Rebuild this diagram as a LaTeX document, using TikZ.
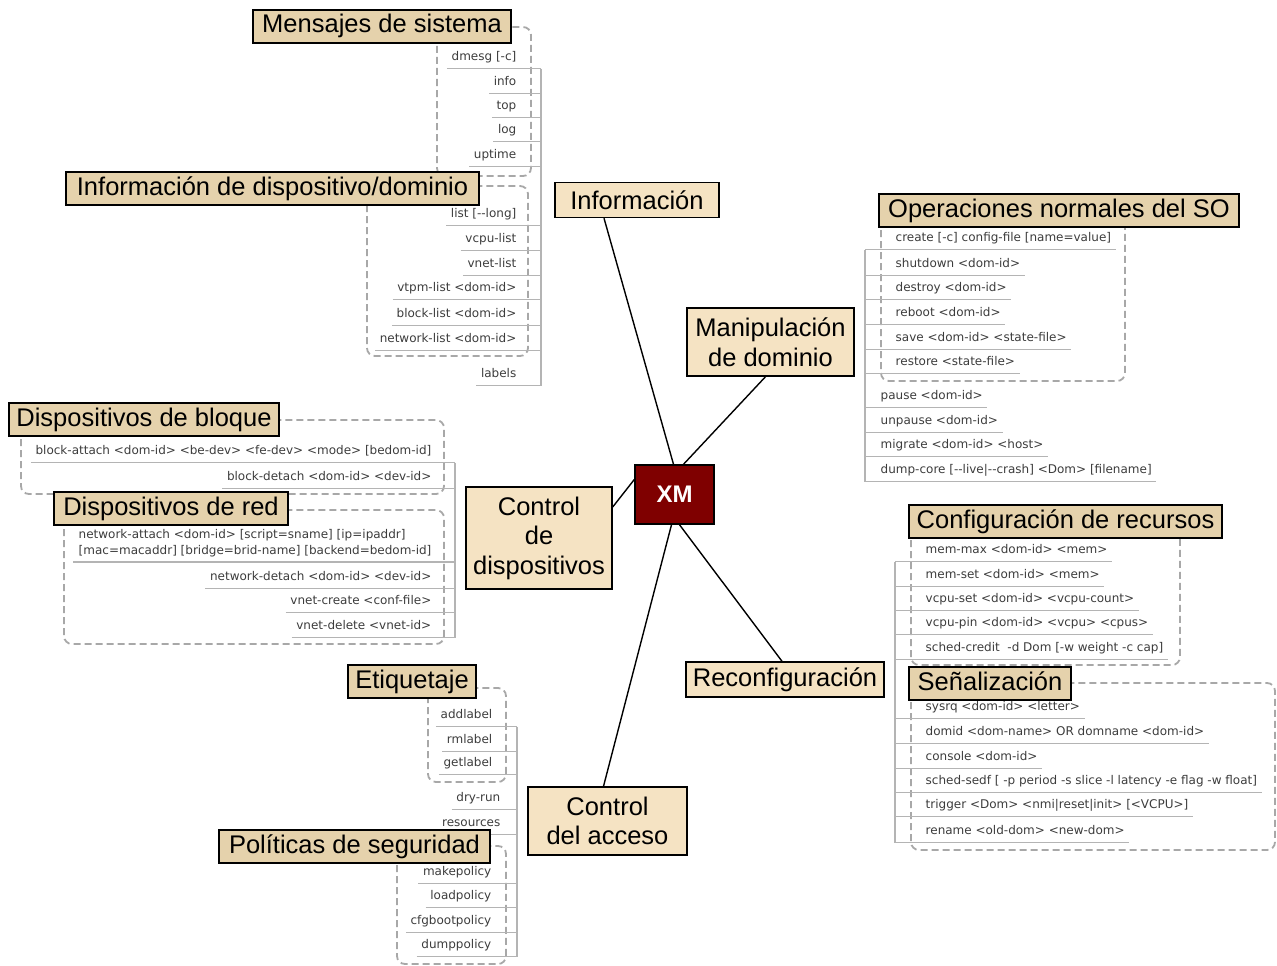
\documentclass[tikz,border=0pt]{standalone}
\usepackage{fontspec}
\setmainfont{Liberation Sans}
\newfontfamily\cmdfont{DejaVu Sans}
\usetikzlibrary{positioning}

\definecolor{xmred}{HTML}{7F0000}
\definecolor{toptan}{HTML}{F5E3C3}
\definecolor{grouptan}{HTML}{E5D2AC}
\definecolor{cmdgray}{HTML}{3C3C3C}
\definecolor{linegray}{HTML}{B4B4B4}
\definecolor{dashgray}{HTML}{A8A8A8}

\tikzset{
  topnode/.style={rectangle, draw, line width=1.4pt, fill=toptan, align=center, inner sep=2pt,
    font=\fontsize{25.5}{29.5}\selectfont},
  groupnode/.style={rectangle, draw, line width=1.8pt, fill=grouptan, inner xsep=2pt, inner ysep=5pt,
    text height=18pt, text depth=5pt, minimum height=33pt, font=\fontsize{25.5}{29.5}\selectfont},
  cmdbase/.style={inner xsep=4pt, inner ysep=5pt, text=cmdgray, font=\cmdfont\fontsize{12}{16}\selectfont},
  cmd/.style={cmdbase, text height=9pt, text depth=3pt},
  cmdR/.style={cmd, anchor=east},
  cmdL/.style={cmd, anchor=west},
  uline/.style={draw=linegray, line width=1.1pt},
  grpbox/.style={draw=dashgray, line width=1.8pt, dash pattern=on 7pt off 4pt, rounded corners=8pt},
}

\begin{document}
\begin{tikzpicture}[x=1pt, y=-1pt, line width=1.4pt]
  \useasboundingbox (0,0) rectangle (1277,966);

  % spines of the command trees
  \coordinate (infospine) at (541,0);
  \coordinate (devspine) at (455,0);
  \coordinate (accspine) at (517,0);
  \coordinate (manspine) at (865,0);
  \coordinate (recspine) at (895,0);

  % dashed group boxes
  \draw[grpbox] (437,27) rectangle (531,176);
  \draw[grpbox] (367,186) rectangle (528,356);
  \draw[grpbox] (21,420) rectangle (444,494);
  \draw[grpbox] (64,510) rectangle (444,644);
  \draw[grpbox] (881,211) rectangle (1125,381);
  \draw[grpbox] (911,521) rectangle (1180,665);
  \draw[grpbox] (911,683) rectangle (1275,850);
  \draw[grpbox] (428,688) rectangle (506,782);
  \draw[grpbox] (397,846) rectangle (506,964);

  % Informacion
  \foreach \t/\y [count=\i] in {{dmesg [-c]}/57, info/82, top/106, log/130, uptime/155}{
    \node[cmdR] (msg\i) at (521,\y) {\t};
    \draw[uline] (msg\i.south west) -- (msg\i.south west -| infospine);
  }
  \foreach \t/\y [count=\i] in {{list [-{}-long]}/214, vcpu-list/239, vnet-list/264,
      {vtpm-list <dom-id>}/288, {block-list <dom-id>}/314, {network-list <dom-id>}/339, labels/374}{
    \node[cmdR] (dev\i) at (521,\y) {\t};
    \draw[uline] (dev\i.south west) -- (dev\i.south west -| infospine);
  }
  \draw[uline] (msg1.south -| infospine) -- (dev7.south -| infospine);

  % Control de dispositivos
  \foreach \t/\y [count=\i] in {{block-attach <dom-id> <be-dev> <fe-dev> <mode> [bedom-id]}/451,
      {block-detach <dom-id> <dev-id>}/477}{
    \node[cmdR] (blk\i) at (436,\y) {\t};
    \draw[uline] (blk\i.south west) -- (blk\i.south west -| devspine);
  }
  \node[cmdbase, anchor=south west, align=left, inner xsep=5pt, inner ysep=4pt] (net1) at (73,562)
    {network-attach <dom-id> [script=sname] [ip=ipaddr]\\{}[mac=macaddr] [bridge=brid-name] [backend=bedom-id]};
  \draw[uline] (net1.south west) -- (net1.south west -| devspine);
  \foreach \t/\y [count=\i from 2] in {{network-detach <dom-id> <dev-id>}/577,
      {vnet-create <conf-file>}/601, {vnet-delete <vnet-id>}/626}{
    \node[cmdR] (net\i) at (436,\y) {\t};
    \draw[uline] (net\i.south west) -- (net\i.south west -| devspine);
  }
  \draw[uline] (blk1.south -| devspine) -- (net4.south -| devspine);

  % Control del acceso
  \foreach \t/\y/\x [count=\i] in {addlabel/715/497, rmlabel/740/497, getlabel/763/497,
      dry-run/798/505, resources/823/505}{
    \node[cmdR] (lbl\i) at (\x,\y) {\t};
    \draw[uline] (lbl\i.south west) -- (lbl\i.south west -| accspine);
  }
  \foreach \t/\y [count=\i] in {makepolicy/872, loadpolicy/896, cfgbootpolicy/921, dumppolicy/945}{
    \node[cmdR] (pol\i) at (496,\y) {\t};
    \draw[uline] (pol\i.south west) -- (pol\i.south west -| accspine);
  }
  \draw[uline] (lbl1.south -| accspine) -- (pol4.south -| accspine);

  % Manipulacion de dominio
  \foreach \t/\y/\x [count=\i] in {{create [-c] config-file [name=value]}/238/891,
      {shutdown <dom-id>}/264/891, {destroy <dom-id>}/288/891, {reboot <dom-id>}/313/891,
      {save <dom-id> <state-file>}/338/891, {restore <state-file>}/362/891,
      {pause <dom-id>}/396/876, {unpause <dom-id>}/421/876, {migrate <dom-id> <host>}/445/876,
      {dump-core [-{}-live|-{}-crash] <Dom> [filename]}/470/876}{
    \node[cmdL] (ops\i) at (\x,\y) {\t};
    \draw[uline] (ops\i.south -| manspine) -- (ops\i.south east);
  }
  \draw[uline] (ops1.south -| manspine) -- (ops10.south -| manspine);

  % Reconfiguracion
  \foreach \t/\y [count=\i] in {{mem-max <dom-id> <mem>}/550, {mem-set <dom-id> <mem>}/575,
      {vcpu-set <dom-id> <vcpu-count>}/599, {vcpu-pin <dom-id> <vcpu> <cpus>}/623,
      {sched-credit \ -d Dom [-w weight -c cap]}/648}{
    \node[cmdL] (cfg\i) at (921,\y) {\t};
    \draw[uline] (cfg\i.south -| recspine) -- (cfg\i.south east);
  }
  \foreach \t/\y [count=\i] in {{sysrq <dom-id> <letter>}/707, {domid <dom-name> OR domname <dom-id>}/732,
      {console <dom-id>}/757, {sched-sedf [ -p period -s slice -l latency -e flag -w float]}/781,
      {trigger <Dom> <nmi|reset|init> [<VCPU>]}/805, {rename <old-dom> <new-dom>}/831}{
    \node[cmdL] (sig\i) at (921,\y) {\t};
    \draw[uline] (sig\i.south -| recspine) -- (sig\i.south east);
  }
  \draw[uline] (cfg1.south -| recspine) -- (sig6.south -| recspine);

  % group labels
  \node[groupnode, minimum width=258pt] (msglbl) at (382,26.5) {Mensajes de sistema};
  \node[groupnode, minimum width=413pt] (devlbl) at (272.5,188.5) {Información de dispositivo/dominio};
  \node[groupnode, minimum width=270pt] (blklbl) at (144,419.5) {Dispositivos de bloque};
  \node[groupnode, minimum width=234pt] (netlbl) at (171,508.5) {Dispositivos de red};
  \node[groupnode, minimum width=360pt] (opslbl) at (1059,210.5) {Operaciones normales del SO};
  \node[groupnode, minimum width=313pt] (cfglbl) at (1065.5,521.5) {Configuración de recursos};
  \node[groupnode, minimum width=162pt] (siglbl) at (990,683.5) {Señalización};
  \node[groupnode, minimum width=128pt] (etqlbl) at (412,681.5) {Etiquetaje};
  \node[groupnode, minimum width=271pt] (pollbl) at (354.5,846.5) {Políticas de seguridad};

  % main nodes
  \node[draw, line width=1.4pt, fill=xmred, text=white, font=\bfseries\fontsize{24}{28}\selectfont,
    minimum width=79pt, minimum height=59pt] (xm) at (674.5,494.5) {XM};
  \node[topnode, minimum width=164pt, minimum height=35pt] (info) at (637,200) {Información};
  \node[topnode, minimum width=167pt, minimum height=68pt] (manip) at (770.5,342) {Manipulación\\de dominio};
  \node[topnode, minimum width=146pt, minimum height=102pt] (ctrl) at (539,538) {Control\\de\\dispositivos};
  \node[topnode, minimum width=198pt, minimum height=35pt] (reconf) at (785,679.5) {Reconfiguración};
  \node[topnode, minimum width=159pt, minimum height=68pt] (acceso) at (607.5,821) {Control\\del acceso};

  \path
    ([xshift=-33pt]info.south) edge ([xshift=-1pt]xm.north)
    ([xshift=-5pt]manip.south) edge ([xshift=9pt]xm.north)
    ([yshift=31pt]ctrl.east) edge ([yshift=15pt]xm.west)
    ([xshift=-3pt]reconf.north) edge ([xshift=5pt]xm.south)
    ([xshift=-4pt]acceso.north) edge ([xshift=-3pt]xm.south)
  ;
\end{tikzpicture}
\end{document}
